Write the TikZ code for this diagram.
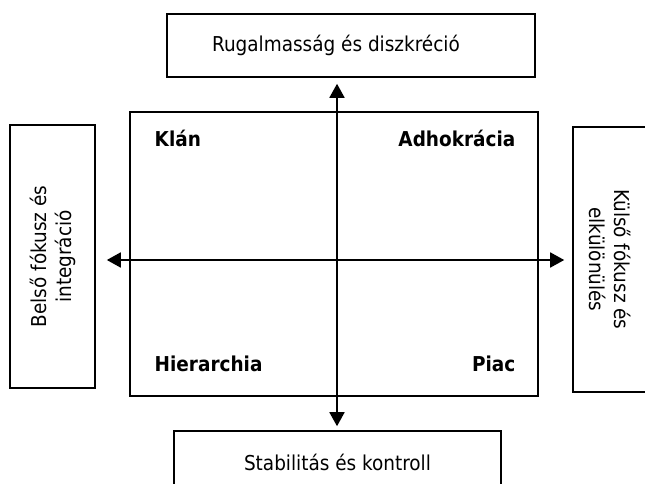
\documentclass[tikz,border=0pt]{standalone}
\usepackage{fontspec}
\setmainfont{DejaVu Sans Condensed}
\usetikzlibrary{arrows.meta,calc}

\begin{document}
\begin{tikzpicture}[x=1pt, y=-1pt, font=\fontsize{20.5}{25}\selectfont,
  b/.style={draw, line width=1.6pt, inner sep=0pt, align=center},
  q/.style={font=\fontsize{20.5}{25}\selectfont\bfseries},
  a/.style={line width=1.8pt, {Triangle[length=14pt,width=15pt]}-{Triangle[length=14pt,width=15pt]}}]
  \clip (0,0) rectangle (645,484);
  \node[b, minimum width=408pt, minimum height=284pt] (G) at (334,254) {};
  \node[b, minimum width=368pt, minimum height=63pt] (T) at (351,45.5) {Rugalmasság és diszkréció\hspace{30pt}};
  \node[b, minimum width=327pt, minimum height=63pt] (D) at (337.5,462.5) {Stabilitás és kontroll};
  \node[b, rotate=90, minimum width=263pt, minimum height=85pt] (L) at (52.5,256.5) {Belső fókusz és\\integráció};
  \node[b, rotate=-90, minimum width=265pt, minimum height=74pt] (R) at (610,259.5) {Külső fókusz és\\elkülönülés};

  \node[q, anchor=west] (K) at ($(G.north west)+(22,27)$) {Klán};
  \node[q, anchor=east] (A) at ($(G.north east)+(-20,27)$) {Adhokrácia};
  \node[q, anchor=west] (H) at ($(G.south west)+(22,-33)$) {Hierarchia};
  \node[q, anchor=east] (P) at ($(G.south east)+(-20,-33)$) {Piac};

  \coordinate (O) at (337,260);
  \draw[a] ($(O |- T.south)+(0,6)$) -- ($(O |- D.north)+(0,-4)$);
  \draw[a] ($(O -| L.south)+(11,0)$) -- ($(O -| R.south)+(-8,0)$);
\end{tikzpicture}
\end{document}
